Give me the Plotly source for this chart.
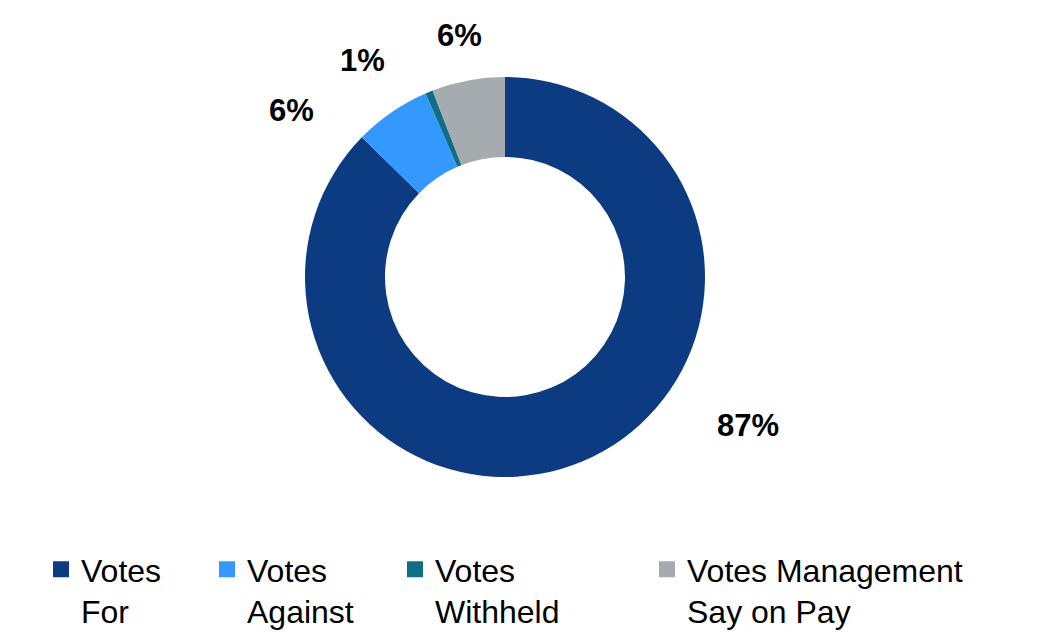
import plotly.graph_objects as go

# ---- data ----
categories = ["Votes<br>For", "Votes<br>Against", "Votes<br>Withheld", "Votes Management<br>Say on Pay"]
values = [87.3, 6.2, 0.6, 5.9]
label_texts = ["87%", "6%", "1%", "6%"]
colors = ["#0D3B82", "#3399FF", "#0E6E85", "#A5ABAF"]

W, H = 1037, 632
FONT = "Arial, Liberation Sans, sans-serif"
# pie geometry in pixels (center, radius)
cx, cy, R = 505, 277, 200
# label centers in pixels (layout, not data)
label_px = [(748, 425), (291, 110), (362, 60), (459, 36)]
# legend entry widths in pixels (layout)
legend_widths = [121, 143, 207, 300]

fig = go.Figure()
fig.add_trace(go.Pie(
    labels=categories,
    values=values,
    hole=0.6,
    sort=False,
    direction="clockwise",
    rotation=0,
    textinfo="none",
    marker=dict(colors=colors, line=dict(width=0)),
    domain=dict(x=[(cx - R) / W, (cx + R) / W], y=[1 - (cy + R) / H, 1 - (cy - R) / H]),
    hoverinfo="label+percent",
    showlegend=False,
))

# legend entries (one per category, same colours as the slices)
for cat, col, lw in zip(categories, colors, legend_widths):
    fig.add_trace(go.Scatter(
        x=[None], y=[None], mode="markers", name=cat,
        marker=dict(symbol="square", size=16, color=col),
        legendwidth=lw, hoverinfo="skip",
    ))

for txt, (px, py) in zip(label_texts, label_px):
    fig.add_annotation(
        x=px / W, y=1 - py / H, xref="paper", yref="paper",
        text=f"<b>{txt}</b>", showarrow=False,
        font=dict(family=FONT, size=31, color="black"),
        xanchor="center", yanchor="middle",
    )

fig.update_layout(
    width=W, height=H,
    margin=dict(l=0, r=0, t=0, b=0, autoexpand=False),
    paper_bgcolor="white",
    plot_bgcolor="white",
    font=dict(family=FONT, color="black"),
    xaxis=dict(visible=False),
    yaxis=dict(visible=False),
    legend=dict(
        orientation="h",
        x=41 / W, xanchor="left",
        y=-0.011, yanchor="bottom",
        font=dict(size=32, color="black", family=FONT),
        valign="top",
        traceorder="normal",
    ),
    showlegend=True,
)

fig.write_html("out.html")
